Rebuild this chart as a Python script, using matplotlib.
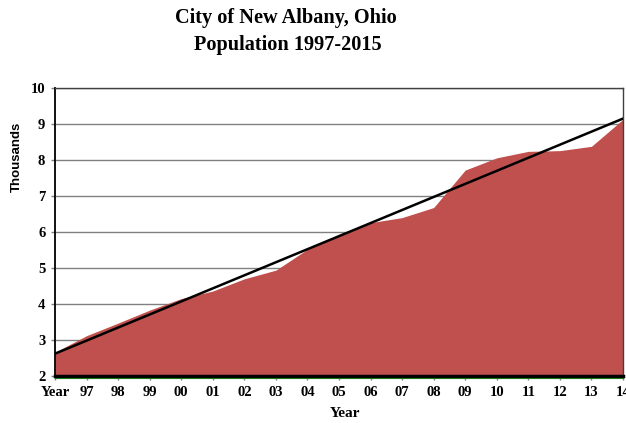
import numpy as np
import matplotlib
matplotlib.use("Agg")
import matplotlib.pyplot as plt
from matplotlib.lines import Line2D

# category labels on the x axis
labels = ["Year", "97", "98", "99", "00", "01", "02", "03", "04", "05",
          "06", "07", "08", "09", "10", "11", "12", "13", "14"]

# population, thousands
population = [2.66, 3.12, 3.47, 3.83, 4.15, 4.36, 4.70, 4.94, 5.52, 5.93,
              6.26, 6.40, 6.68, 7.72, 8.06, 8.24, 8.26, 8.38, 9.13]

# straight trend line, start and end values
trend_ends = [2.62, 9.15]

fill_col = "#C0504D"
serif = ["Liberation Serif", "DejaVu Serif"]

fig = plt.figure(figsize=(6.26, 4.23), dpi=100)
ax = fig.add_axes([55/626, 1-376/423, (623-55)/626, (376-88)/423])

x = np.arange(len(labels))
ax.fill_between(x, 2, population, color=fill_col, linewidth=0, zorder=2)
ax.plot([x[0], x[-1]], trend_ends, color="black", lw=1.8, zorder=3)

ax.set_xlim(0, len(labels)-1)
ax.set_ylim(2, 10)
ax.set_yticks(range(2, 11))
ax.set_xticks(x)
ax.set_xticklabels(labels, fontfamily=serif, fontweight="bold", fontsize=10.5)
for t in ax.get_yticklabels():
    t.set_fontfamily(serif)
    t.set_fontweight("bold")
    t.set_fontsize(10.5)

ax.grid(axis="y", color="#808080", lw=1, zorder=1)
ax.set_axisbelow(True)
ax.tick_params(axis="both", length=3, color="#808080", width=1, pad=4)

for s in ["top", "right"]:
    ax.spines[s].set_color("#404040")
    ax.spines[s].set_linewidth(1)
ax.spines["left"].set_color("black")
ax.spines["left"].set_linewidth(1.3)
ax.spines["bottom"].set_color("black")
ax.spines["bottom"].set_linewidth(2.5)
ax.spines["bottom"].set_zorder(4)

# thin green line right under the base
fig.add_artist(Line2D([55/626, 623/626], [1-377.5/423, 1-377.5/423],
                      color="#1a7a1a", lw=0.8))

fig.text(17/626, 1-157/423, "Thousands", rotation=90, ha="center", va="center",
         fontfamily="Liberation Sans", fontweight="bold", fontsize=9.5)
fig.text(345/626, 1-413/423, "Year", ha="center", va="center",
         fontfamily=serif, fontweight="bold", fontsize=11)

fig.text(286/626, 1-18/423, "City of New Albany, Ohio", ha="center", va="center",
         fontfamily=serif, fontweight="bold", fontsize=14.6)
fig.text(288/626, 1-45/423, "Population 1997-2015", ha="center", va="center",
         fontfamily=serif, fontweight="bold", fontsize=14.6)

fig.savefig("out.png", dpi=100)
